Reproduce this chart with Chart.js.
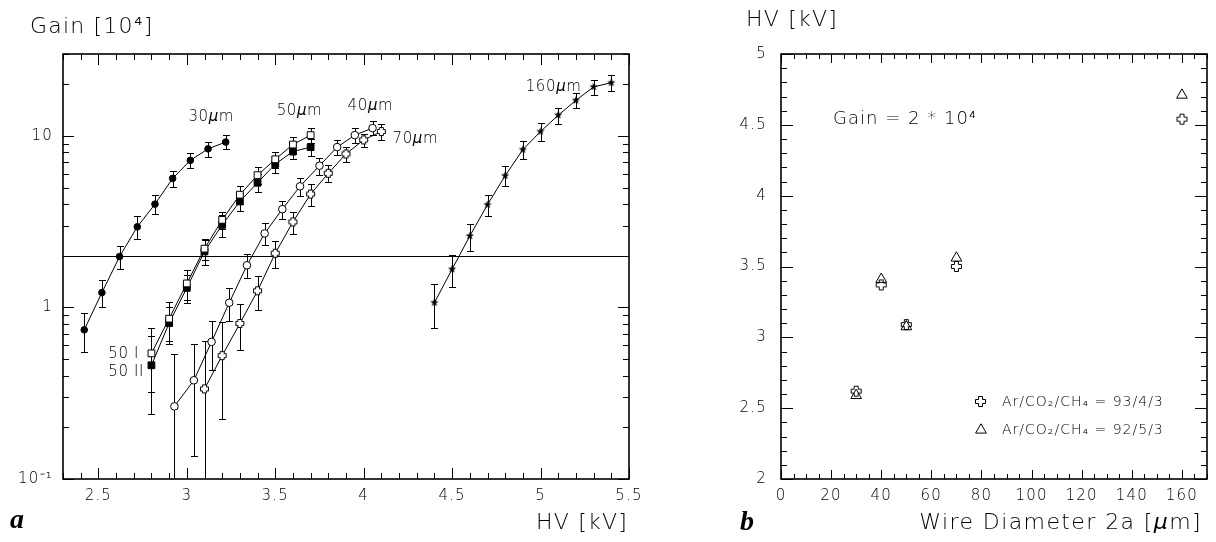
<!DOCTYPE html>
<html>
<head>
<meta charset="utf-8">
<script src="https://cdn.jsdelivr.net/npm/chart.js@4.4.0/dist/chart.umd.min.js"></script>
<style>
  html, body { margin: 0; padding: 0; background: #fff; }
  body { width: 1216px; height: 542px; position: relative; overflow: hidden; }
  canvas { position: absolute; top: 0; }
  #gainChart { left: 0; }
  #hvChart { left: 690px; }
</style>
</head>
<body>
<canvas id="gainChart" width="680" height="542"></canvas>
<canvas id="hvChart" width="526" height="542"></canvas>
<script>
// ---- Panel a: gain versus high voltage, one curve per wire diameter ----
const hv30 = [2.42, 2.52, 2.62, 2.72, 2.82, 2.92, 3.02, 3.12, 3.22];
const gain30 = [0.74, 1.22, 1.98, 2.95, 4.0, 5.65, 7.2, 8.4, 9.2];
const err30 = [0.19, 0.22, 0.3, 0.46, 0.5, 0.62, 0.72, 0.82, 0.85];

const hv50 = [2.8, 2.9, 3.0, 3.1, 3.2, 3.3, 3.4, 3.5, 3.6, 3.7];
const gain50I = [0.54, 0.86, 1.38, 2.2, 3.24, 4.54, 5.9, 7.3, 8.9, 10.1];
const err50I = [0.22, 0.22, 0.27, 0.3, 0.38, 0.55, 0.66, 0.8, 1.0, 1.05];
const gain50II = [0.46, 0.81, 1.30, 2.12, 3.03, 4.15, 5.33, 6.85, 8.1, 8.6];
const err50II = [0.22, 0.2, 0.24, 0.36, 0.44, 0.52, 0.64, 0.75, 0.8, 1.0];

const hv40 = [2.93, 3.04, 3.14, 3.24, 3.34, 3.44, 3.54, 3.64, 3.75, 3.85, 3.95, 4.05];
const gain40 = [0.265, 0.376, 0.63, 1.065, 1.76, 2.7, 3.74, 5.08, 6.7, 8.6, 10.1, 11.1];
const err40 = [0.27, 0.24, 0.2, 0.23, 0.28, 0.4, 0.45, 0.6, 0.75, 0.9, 1.0, 1.05];

const hv70 = [3.1, 3.2, 3.3, 3.4, 3.5, 3.6, 3.7, 3.8, 3.9, 4.0, 4.1];
const gain70 = [0.335, 0.524, 0.806, 1.25, 2.07, 3.15, 4.58, 6.05, 7.85, 9.47, 10.6];
const err70 = [0.3, 0.3, 0.24, 0.28, 0.37, 0.46, 0.66, 0.68, 0.8, 0.85, 1.1];

const hv160 = [4.4, 4.5, 4.6, 4.7, 4.8, 4.9, 5.0, 5.1, 5.2, 5.3, 5.4];
const gain160 = [1.066, 1.67, 2.61, 3.97, 5.86, 8.32, 10.6, 13.2, 16.1, 19.3, 20.4];
const err160 = [0.31, 0.35, 0.47, 0.57, 0.78, 1.0, 1.3, 1.4, 1.6, 2.0, 2.2];

const referenceGain = 2;

const hvTickLabels = [2.5, 3, 3.5, 4, 4.5, 5, 5.5];
const gainTickLabels = [0.1, 1, 10];

// ---- Panel b: voltage needed for gain 2*10^4 versus wire diameter ----
const wireDiameters = [30, 40, 50, 70, 160];
const hvMix93 = [2.62, 3.37, 3.09, 3.50, 4.54];
const hvMix92 = [2.59, 3.41, 3.075, 3.56, 4.71];

const diameterTickLabels = [0, 20, 40, 60, 80, 100, 120, 140, 160];
const hvTickLabelsB = [2, 2.5, 3, 3.5, 4, 4.5, 5];

// ---- helpers ----
const FONT = "'DejaVu Sans', 'Liberation Sans', sans-serif";
const TEXT_WEIGHT = '200';
const near = (a, b) => Math.abs(a - b) < 1e-6;
const inList = (v, list) => list.some(t => near(v, t));
function steps(min, max, step) {
  const out = [], n = Math.round((max - min) / step);
  for (let i = 0; i <= n; i++) out.push(+(min + i * step).toFixed(6));
  return out;
}
function logSteps(min, max) {
  const out = [];
  for (let d = 0.1; d <= max; d *= 10) {
    for (let m = 1; m <= 9; m++) {
      const v = +(m * d).toPrecision(6);
      if (v >= min - 1e-9 && v <= max + 1e-9) out.push(v);
    }
  }
  return out;
}

// outlined plus marker
function plusMarker(arm, half, fill) {
  const size = 2 * arm + 3;
  const c = document.createElement('canvas');
  c.width = c.height = size;
  const g = c.getContext('2d');
  const cx = size / 2, cy = size / 2;
  const a = arm, w = half;
  const pts = [[-w,-a],[w,-a],[w,-w],[a,-w],[a,w],[w,w],[w,a],[-w,a],[-w,w],[-a,w],[-a,-w],[-w,-w]];
  g.beginPath();
  pts.forEach(([dx, dy], i) => i ? g.lineTo(cx + dx, cy + dy) : g.moveTo(cx + dx, cy + dy));
  g.closePath();
  if (fill) { g.fillStyle = fill; g.fill(); }
  g.strokeStyle = '#000'; g.lineWidth = 1; g.stroke();
  return c;
}
// small filled star marker
function starMarker(outer, inner) {
  const size = Math.ceil(2 * outer + 2);
  const c = document.createElement('canvas');
  c.width = c.height = size;
  const g = c.getContext('2d');
  const cx = size / 2, cy = size / 2;
  g.beginPath();
  for (let i = 0; i < 10; i++) {
    const r = i % 2 ? inner : outer;
    const ang = -Math.PI / 2 + i * Math.PI / 5;
    const px = cx + r * Math.cos(ang), py = cy + r * Math.sin(ang);
    i ? g.lineTo(px, py) : g.moveTo(px, py);
  }
  g.closePath();
  g.fillStyle = '#000'; g.fill();
  g.strokeStyle = '#000'; g.lineWidth = 0.6; g.stroke();
  return c;
}

// text with italic Greek mu
function richText(ctx, str, x, y, size, align, spacing) {
  const parts = str.split(/(μ)/).filter(s => s.length);
  const fontFor = p => (p === 'μ' ? 'italic ' : '') + TEXT_WEIGHT + ' ' + size + 'px ' + FONT;
  ctx.letterSpacing = (spacing || 0) + 'px';
  let total = 0;
  parts.forEach(p => { ctx.font = fontFor(p); total += ctx.measureText(p).width; });
  let cx = align === 'right' ? x - total : align === 'center' ? x - total / 2 : x;
  ctx.textAlign = 'left';
  ctx.textBaseline = 'middle';
  parts.forEach(p => { ctx.font = fontFor(p); ctx.fillText(p, cx, y); cx += ctx.measureText(p).width; });
  ctx.letterSpacing = '0px';
}

// per-canvas decoration settings (frame, tick marks, texts, legend)
const decorations = {};

// ---- plugins ----
const errorBars = {
  id: 'errorBars',
  beforeDatasetsDraw(chart) {
    const { ctx, chartArea: a, scales: { x, y } } = chart;
    const deco = decorations[chart.canvas.id] || {};
    const cap = 3.5;
    ctx.save();
    ctx.beginPath(); ctx.rect(a.left, a.top, a.right - a.left, a.bottom - a.top); ctx.clip();
    ctx.strokeStyle = '#000'; ctx.lineWidth = 1;
    chart.data.datasets.forEach(ds => {
      if (!ds.errors) return;
      ds.data.forEach((p, i) => {
        const e = ds.errors[i];
        const px = Math.round(x.getPixelForValue(p.x)) + 0.5;
        const hi = Math.round(y.getPixelForValue(p.y + e)) + 0.5;
        const lowVal = p.y - e;
        const clipped = lowVal <= y.min;
        const lo = clipped ? a.bottom : Math.round(y.getPixelForValue(lowVal)) + 0.5;
        ctx.beginPath();
        ctx.moveTo(px, hi); ctx.lineTo(px, lo);
        ctx.moveTo(px - cap, hi); ctx.lineTo(px + cap, hi);
        if (!clipped) { ctx.moveTo(px - cap, lo); ctx.lineTo(px + cap, lo); }
        ctx.stroke();
      });
    });
    if (deco.referenceLine !== undefined) {
      const py = Math.round(y.getPixelForValue(deco.referenceLine)) + 0.5;
      ctx.beginPath(); ctx.moveTo(a.left, py); ctx.lineTo(a.right, py); ctx.stroke();
    }
    ctx.restore();
  }
};

const frameTicks = {
  id: 'frameTicks',
  beforeDraw(chart) {
    chart.ctx.letterSpacing = '1.2px';
  },
  afterDraw(chart) {
    const o = decorations[chart.canvas.id];
    if (!o) return;
    const { ctx, chartArea: a, scales: { x, y } } = chart;
    ctx.save();
    ctx.letterSpacing = '0px';
    ctx.strokeStyle = '#000'; ctx.lineWidth = 1;
    ctx.beginPath();
    x.ticks.forEach(t => {
      const px = Math.round(x.getPixelForValue(t.value)) + 0.5;
      const L = o.xMajor(t.value) ? o.xLen[0] : o.xLen[1];
      ctx.moveTo(px, a.bottom); ctx.lineTo(px, a.bottom - L);
      ctx.moveTo(px, a.top); ctx.lineTo(px, a.top + L);
    });
    y.ticks.forEach(t => {
      const py = Math.round(y.getPixelForValue(t.value)) + 0.5;
      const L = o.yMajor(t.value) ? o.yLen[0] : o.yLen[1];
      ctx.moveTo(a.left, py); ctx.lineTo(a.left + L, py);
      ctx.moveTo(a.right, py); ctx.lineTo(a.right - L, py);
    });
    ctx.stroke();
    ctx.lineWidth = 1.6;
    ctx.strokeRect(a.left, a.top, a.right - a.left, a.bottom - a.top);

    ctx.fillStyle = '#000';
    (o.texts || []).forEach(t => {
      let px, py;
      if (t.data) { px = x.getPixelForValue(t.data[0]); py = y.getPixelForValue(t.data[1]); }
      else { px = t.px[0]; py = t.px[1]; }
      if (t.serif) {
        ctx.font = t.serif; ctx.textAlign = 'left'; ctx.textBaseline = 'alphabetic';
        ctx.fillText(t.text, px, py);
      } else {
        richText(ctx, t.text, px, py, t.size, t.align || 'left', t.spacing || 0);
      }
    });
    (o.legend || []).forEach(l => {
      const px = x.getPixelForValue(l.data[0]), py = y.getPixelForValue(l.data[1]);
      if (l.image) {
        ctx.drawImage(l.image, Math.round(px - l.image.width / 2), Math.round(py - l.image.height / 2));
      } else {
        ctx.strokeStyle = '#000'; ctx.lineWidth = 1; ctx.fillStyle = 'rgba(0,0,0,0)';
        Chart.helpers.drawPoint(ctx, { pointStyle: l.pointStyle, radius: l.radius, borderWidth: 1 }, px, py);
        ctx.fillStyle = '#000';
      }
      richText(ctx, l.text, px + l.gap, py, l.size, 'left', 1);
    });
    ctx.restore();
  }
};

Chart.register(errorBars, frameTicks);

function series(xs, ys, errs, style) {
  return Object.assign({
    data: xs.map((v, i) => ({ x: v, y: ys[i] })),
    errors: errs,
    showLine: true,
    borderColor: '#000',
    borderWidth: 1,
    tension: 0,
    pointBorderColor: '#000',
    pointBorderWidth: 1,
    pointBackgroundColor: '#fff'
  }, style);
}

const tickFont = { family: FONT, size: 15, weight: TEXT_WEIGHT };

// ---- Panel a ----
const plusSmall = plusMarker(4, 2, '#fff');
const starSmall = starMarker(3.6, 1.5);

decorations.gainChart = {
  referenceLine: referenceGain,
  xMajor: v => inList(v, hvTickLabels),
  yMajor: v => inList(v, gainTickLabels),
  xLen: [11, 6], yLen: [11, 6],
  texts: [
    { text: 'Gain [10⁴]', px: [30, 27], size: 22, spacing: 1.2 },
    { text: 'HV [kV]', px: [628, 523], size: 22, align: 'right', spacing: 1.2 },
    { text: 'a', px: [10, 528], serif: "bold italic 28px 'Liberation Serif', serif" },
    { text: '30μm', data: [3.009, 12.8], size: 15, spacing: 0.6 },
    { text: '50μm', data: [3.508, 13.9], size: 15, spacing: 0.6 },
    { text: '40μm', data: [3.909, 14.9], size: 15, spacing: 0.6 },
    { text: '70μm', data: [4.163, 9.6], size: 15, spacing: 0.6 },
    { text: '160μm', data: [4.916, 19.3], size: 15, spacing: 0.6 },
    { text: '50 I', data: [2.556, 0.531], size: 15, spacing: 0.6 },
    { text: '50 II', data: [2.556, 0.422], size: 15, spacing: 0.6 }
  ]
};

new Chart(document.getElementById('gainChart'), {
  type: 'scatter',
  data: {
    datasets: [
      series(hv30, gain30, err30, { pointStyle: 'circle', pointRadius: 3.3, pointBackgroundColor: '#000' }),
      series(hv50, gain50I, err50I, { pointStyle: 'rect', pointRadius: 4.8, pointBackgroundColor: '#fff' }),
      series(hv50, gain50II, err50II, { pointStyle: 'rect', pointRadius: 4.8, pointBackgroundColor: '#000' }),
      series(hv40, gain40, err40, { pointStyle: 'circle', pointRadius: 3.8, pointBackgroundColor: '#fff' }),
      series(hv70, gain70, err70, { pointStyle: plusSmall }),
      series(hv160, gain160, err160, { pointStyle: starSmall })
    ]
  },
  options: {
    responsive: false,
    animation: false,
    events: [],
    layout: { padding: { top: 54, right: 51, bottom: 0, left: 0 } },
    scales: {
      x: {
        type: 'linear', min: 2.3, max: 5.5,
        grid: { display: false, drawTicks: false },
        border: { display: false },
        afterBuildTicks: s => { s.ticks = steps(2.3, 5.5, 0.1).map(v => ({ value: v })); },
        afterFit: s => { s.height = 63; },
        ticks: {
          autoSkip: false, maxRotation: 0, minRotation: 0, padding: 8, color: '#000', font: tickFont,
          callback: v => inList(v, hvTickLabels) ? String(+v.toFixed(1)) : ''
        }
      },
      y: {
        type: 'logarithmic', min: 0.1, max: 30,
        grid: { display: false, drawTicks: false },
        border: { display: false },
        afterBuildTicks: s => { s.ticks = logSteps(0.1, 30).map(v => ({ value: v })); },
        afterFit: s => { s.width = 63; },
        ticks: {
          autoSkip: false, padding: 10, color: '#000', font: tickFont,
          callback: v => inList(v, gainTickLabels) ? (near(v, 0.1) ? '10⁻¹' : String(v)) : ''
        }
      }
    },
    plugins: { legend: { display: false }, tooltip: { enabled: false } }
  }
});

// ---- Panel b ----
const plusLarge = plusMarker(5, 2, null);

decorations.hvChart = {
  xMajor: v => inList(v, diameterTickLabels),
  yMajor: v => inList(v, hvTickLabelsB),
  xLen: [9, 5], yLen: [12, 6],
  texts: [
    { text: 'HV [kV]', px: [56, 20], size: 22, spacing: 1.2 },
    { text: 'Wire Diameter 2a [μm]', px: [512, 523], size: 22, align: 'right', spacing: 1.4 },
    { text: 'b', px: [50, 530], serif: "bold italic 28px 'Liberation Serif', serif" },
    { text: 'Gain = 2 * 10⁴', data: [20.8, 4.541], size: 18, spacing: 1 }
  ],
  legend: [
    { image: plusLarge, data: [79.8, 2.544], gap: 21, size: 14, text: 'Ar/CO₂/CH₄ = 93/4/3' },
    { pointStyle: 'triangle', radius: 6.2, data: [79.8, 2.346], gap: 21, size: 14, text: 'Ar/CO₂/CH₄ = 92/5/3' }
  ]
};

new Chart(document.getElementById('hvChart'), {
  type: 'scatter',
  data: {
    datasets: [
      { data: wireDiameters.map((d, i) => ({ x: d, y: hvMix93[i] })), showLine: false,
        pointStyle: plusLarge, pointBorderColor: '#000' },
      { data: wireDiameters.map((d, i) => ({ x: d, y: hvMix92[i] })), showLine: false,
        pointStyle: 'triangle', pointRadius: 6.2, pointBorderWidth: 1,
        pointBorderColor: '#000', pointBackgroundColor: 'rgba(0,0,0,0)' }
    ]
  },
  options: {
    responsive: false,
    animation: false,
    events: [],
    layout: { padding: { top: 54, right: 9, bottom: 0, left: 0 } },
    scales: {
      x: {
        type: 'linear', min: 0, max: 170,
        grid: { display: false, drawTicks: false },
        border: { display: false },
        afterBuildTicks: s => { s.ticks = steps(0, 170, 5).map(v => ({ value: v })); },
        afterFit: s => { s.height = 63; },
        ticks: {
          autoSkip: false, maxRotation: 0, minRotation: 0, padding: 8, color: '#000', font: tickFont,
          callback: v => inList(v, diameterTickLabels) ? String(v) : ''
        }
      },
      y: {
        type: 'linear', min: 2, max: 5,
        grid: { display: false, drawTicks: false },
        border: { display: false },
        afterBuildTicks: s => { s.ticks = steps(2, 5, 0.1).map(v => ({ value: v })); },
        afterFit: s => { s.width = 91; },
        ticks: {
          autoSkip: false, padding: 14, color: '#000', font: tickFont,
          callback: v => inList(v, hvTickLabelsB) ? String(+v.toFixed(1)) : ''
        }
      }
    },
    plugins: { legend: { display: false }, tooltip: { enabled: false } }
  }
});
</script>
</body>
</html>
